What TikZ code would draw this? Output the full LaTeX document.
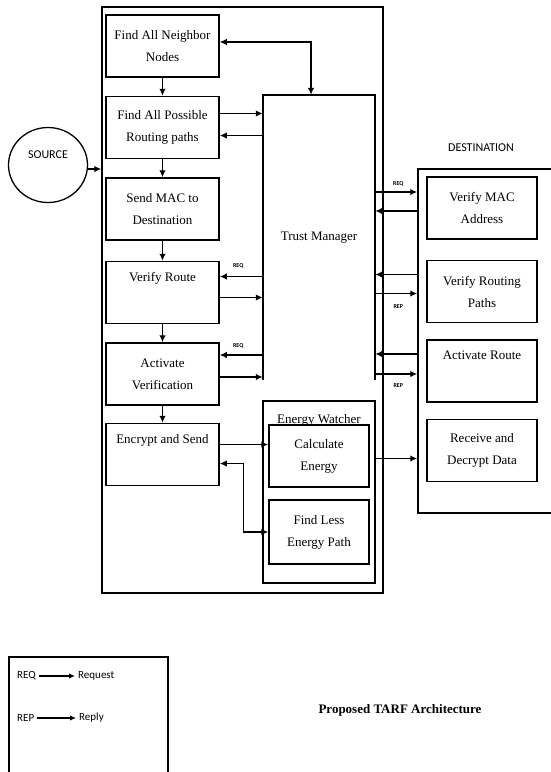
\documentclass[tikz,border=0pt]{standalone}
\usepackage{fontspec}
\setmainfont{Liberation Serif}
\setsansfont{Carlito}
\usetikzlibrary{shapes.geometric, arrows.meta, positioning, calc}
\newcommand{\boxfont}{\fontsize{13}{22}\selectfont}
\tikzset{
  frame/.style={draw, line width=1.5pt},
  box/.style={rectangle, draw, line width=1.5pt, fill=white, minimum width=113pt,
    minimum height=62pt, align=center, font=\boxfont, inner sep=2pt},
  topbox/.style={box, label={[anchor=north, font=\boxfont, yshift=-8pt]north:#1}},
  arr/.style={-{Latex[length=7pt, width=6.5pt]}, line width=1.5pt},
  darr/.style={{Latex[length=7pt, width=6.5pt]}-{Latex[length=7pt, width=6.5pt]}, line width=1.5pt},
  tag/.style={font=\sffamily\bfseries\fontsize{6}{7}\selectfont, inner sep=0pt},
  sans/.style={font=\sffamily\fontsize{12}{14}\selectfont},
  key/.style={font=\sffamily\fontsize{11}{13}\selectfont, inner sep=1pt},
}

\begin{document}
\begin{tikzpicture}[x=1pt, y=-1pt]
  \useasboundingbox (0,0) rectangle (550,772);

  % source
  \node[ellipse, draw, line width=1.3pt, minimum width=79pt, minimum height=75pt,
    label={[sans, yshift=10pt]center:SOURCE}] (src) at (48,165) {};

  % outer frame and trust manager
  \node[frame, minimum width=281pt, minimum height=586pt] (outer) at (242.5,300) {};
  \node[minimum width=112pt, minimum height=285pt, font=\boxfont] (tm) at (319,237.5) {Trust Manager};
  \draw[line width=1.5pt] (tm.south west) -- (tm.north west) -- (tm.north east) -- (tm.south east);

  % left column
  \node[box] (nb) at (162.5,46) {Find All Neighbor\\Nodes};
  \node[box, below=18pt of nb] (rp) {Find All Possible\\Routing paths};
  \node[box, below=18pt of rp] (mac) {Send MAC to\\Destination};
  \node[topbox=Verify Route, below=20pt of mac] (vr) {};
  \node[box, below=18pt of vr] (av) {Activate\\Verification};
  \node[topbox=Encrypt and Send, below=17pt of av] (es) {};

  % energy watcher
  \node[frame, minimum width=112pt, minimum height=182pt] (ew) at (319,492) {};
  \node[font=\boxfont, inner sep=0pt] (ewl) at (319,420) {Energy Watcher};
  \node[box, minimum width=100pt] (ce) at (319,456) {Calculate\\Energy};
  \node[box, minimum width=100pt, minimum height=64pt] (fl) at (319,532) {Find Less\\Energy Path};

  % destination
  \node[sans] (dlab) at (481,148) {DESTINATION};
  \node[frame, minimum width=140pt, minimum height=344pt] (dest) at (488,341) {};
  \node[box, minimum width=110pt] (vm) at (482,208) {Verify MAC\\Address};
  \node[box, minimum width=110pt, below=20pt of vm] (vp) {Verify Routing\\Paths};
  \node[topbox=Activate Route, minimum width=110pt, below=16pt of vp] (ar) {};
  \node[box, minimum width=110pt, below=16pt of ar] (rd) {Receive and\\Decrypt Data};

  % flow down the left column
  \draw[arr] ([yshift=-4pt]src.east) -- ([yshift=-4pt]src.east -| outer.west);
  \draw[arr] (nb) -- (rp);
  \draw[arr] (rp) -- (mac);
  \draw[arr] (mac) -- (vr);
  \draw[arr] (vr) -- (av);
  \draw[arr] (av) -- (es);

  % left column <-> trust manager
  \draw[darr] ([yshift=4pt]nb.east) -| ([xshift=-8pt]tm.north);
  \draw[arr] ([yshift=14pt]rp.east) -- ([yshift=14pt]rp.east -| tm.west);
  \draw[arr] ([yshift=-8pt]rp.east -| tm.west) -- ([yshift=-8pt]rp.east);
  \draw[arr] ([yshift=16pt]vr.east -| tm.west) -- node[tag, pos=0.57, above=8pt] {REQ} ([yshift=16pt]vr.east);
  \draw[arr] ([yshift=-5pt]vr.east) -- ([yshift=-5pt]vr.east -| tm.west);
  \draw[arr] ([yshift=19pt]av.east -| tm.west) -- node[tag, pos=0.57, above=6pt] {REQ} ([yshift=19pt]av.east);
  \draw[arr] ([yshift=-3pt]av.east) -- ([yshift=-3pt]av.east -| tm.west);

  % trust manager <-> destination
  \draw[arr] ([yshift=16pt]vm.west -| tm.east) -- node[tag, pos=0.55, above=5pt] {REQ} ([yshift=16pt]vm.west -| dest.west);
  \draw[arr] ([yshift=-3pt]vm.west -| dest.west) -- ([yshift=-3pt]vm.west -| tm.east);
  \draw[arr] ([yshift=17pt]vp.west -| dest.west) -- ([yshift=17pt]vp.west -| tm.east);
  \draw[arr] ([yshift=-2pt]vp.west -| tm.east) -- node[tag, pos=0.55, below=10pt] {REP} ([yshift=-2pt]vp.west -| dest.west);
  \draw[arr] ([yshift=17pt]ar.west -| dest.west) -- ([yshift=17pt]ar.west -| tm.east);
  \draw[arr] ([yshift=-3pt]ar.west -| tm.east) -- node[tag, pos=0.55, below=9pt] {REP} ([yshift=-3pt]ar.west -| dest.west);

  % energy
  \draw[arr] ([yshift=10pt]es.east) -- ([yshift=10pt]es.east -| ce.west);
  \draw[darr] ([yshift=-9pt]es.east) -| ([xshift=-25pt]fl.west) -- (fl.west);
  \draw[arr] ([yshift=-8pt]rd.west -| ew.east) -- ([yshift=-8pt]rd.west -| dest.west);

  % legend
  \node[frame, line width=1.2pt, minimum width=159pt, minimum height=125pt] (legend) at (88.5,719.5) {};
  \node[key, anchor=west] (req) at (16,676) {REQ};
  \node[key, anchor=west] (reqt) at (77,676) {Request};
  \node[key, anchor=west] (rep) at (16,718) {REP};
  \node[key, anchor=west] (rept) at (78,718) {Reply};
  \draw[-{Latex[length=6pt, width=5.5pt]}, line width=1.2pt] ([xshift=2pt]req.east) -- ([xshift=-2pt]reqt.west);
  \draw[-{Latex[length=6pt, width=5.5pt]}, line width=1.2pt] ([xshift=2pt]rep.east) -- ([xshift=-2pt]rept.west);

  % caption
  \node[font=\bfseries\fontsize{13}{15}\selectfont] (title) at (400,710) {Proposed TARF Architecture};
\end{tikzpicture}
\end{document}
